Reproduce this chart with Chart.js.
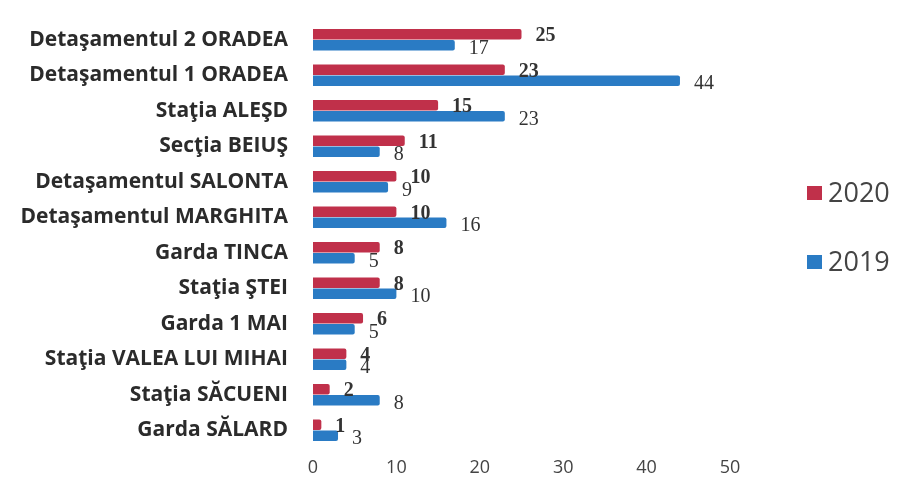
<!DOCTYPE html>
<html>
<head>
<meta charset="utf-8">
<script src="https://cdn.jsdelivr.net/npm/chart.js@4"></script>
<style>
html,body{margin:0;padding:0;background:#fff;}
#wrap{width:897px;height:485px;position:relative;}
</style>
</head>
<body>
<div id="wrap"><canvas id="c" width="897" height="485"></canvas></div>
<script>
const categories = [
  "Detaşamentul 2 ORADEA",
  "Detaşamentul 1 ORADEA",
  "Staţia ALEŞD",
  "Secţia BEIUŞ",
  "Detaşamentul SALONTA",
  "Detaşamentul MARGHITA",
  "Garda TINCA",
  "Staţia ŞTEI",
  "Garda 1 MAI",
  "Staţia VALEA LUI MIHAI",
  "Staţia SĂCUENI",
  "Garda SĂLARD"
];
const values2020 = [25, 23, 15, 11, 10, 10, 8, 8, 6, 4, 2, 1];
const values2019 = [17, 44, 23, 8, 9, 16, 5, 10, 5, 4, 8, 3];
const seriesNames = ["2020", "2019"];
const xTicks = [0, 10, 20, 30, 40, 50];

const valueLabels = {
  id: 'valueLabels',
  afterDatasetsDraw(chart) {
    const ctx = chart.ctx;
    ctx.save();
    chart.data.datasets.forEach((ds, di) => {
      const meta = chart.getDatasetMeta(di);
      meta.data.forEach((bar, i) => {
        ctx.fillStyle = '#333';
        ctx.textAlign = 'left';
        ctx.textBaseline = 'middle';
        ctx.font = (di === 0 ? 'bold ' : '') + '20px "Liberation Serif", "DejaVu Serif", serif';
        const dy = di === 0 ? 2 : 3;
        ctx.fillText(String(ds.data[i]), bar.x + 14, bar.y + dy);
      });
    });
    ctx.restore();
  }
};

const customLegend = {
  id: 'customLegend',
  afterDraw(chart) {
    const ctx = chart.ctx;
    ctx.save();
    const ys = [193, 262];
    chart.data.datasets.forEach((ds, di) => {
      const y = ys[di];
      ctx.fillStyle = ds.backgroundColor;
      ctx.fillRect(807, y - 7, 15, 14);
      ctx.fillStyle = '#444';
      ctx.font = '27px "Open Sans", "Liberation Sans", sans-serif';
      ctx.textAlign = 'left';
      ctx.textBaseline = 'middle';
      ctx.fillText(ds.label, 828, y + 1);
    });
    ctx.restore();
  }
};

new Chart(document.getElementById('c'), {
  type: 'bar',
  data: {
    labels: categories,
    datasets: [
      { label: seriesNames[0], data: values2020, backgroundColor: '#c0304a', borderRadius: 2,
        categoryPercentage: 0.62, barPercentage: 0.95 },
      { label: seriesNames[1], data: values2019, backgroundColor: '#2a7bc4', borderRadius: 2,
        categoryPercentage: 0.62, barPercentage: 0.95 }
    ]
  },
  options: {
    indexAxis: 'y',
    responsive: false,
    animation: false,
    layout: { padding: { top: 22, right: 167, left: 0, bottom: 0 } },
    plugins: { legend: { display: false }, tooltip: { enabled: false } },
    scales: {
      x: {
        min: 0, max: 50,
        afterBuildTicks(axis) { axis.ticks = xTicks.map(v => ({ value: v })); },
        afterFit(axis) { axis.height = 37; axis.paddingLeft = 0; axis.paddingRight = 0; },
        grid: { display: false, drawTicks: false },
        border: { display: false },
        ticks: { color: '#444', padding: 9, font: { family: '"Open Sans", sans-serif', size: 18 } }
      },
      y: {
        afterFit(axis) { axis.width = 313; axis.paddingTop = 0; axis.paddingBottom = 0; },
        grid: { display: false, drawTicks: false },
        border: { display: false },
        ticks: { color: '#2b2b2b', padding: 25, font: { family: '"Open Sans", sans-serif', size: 21, weight: 'bold' } }
      }
    }
  },
  plugins: [valueLabels, customLegend]
});
</script>
</body>
</html>
